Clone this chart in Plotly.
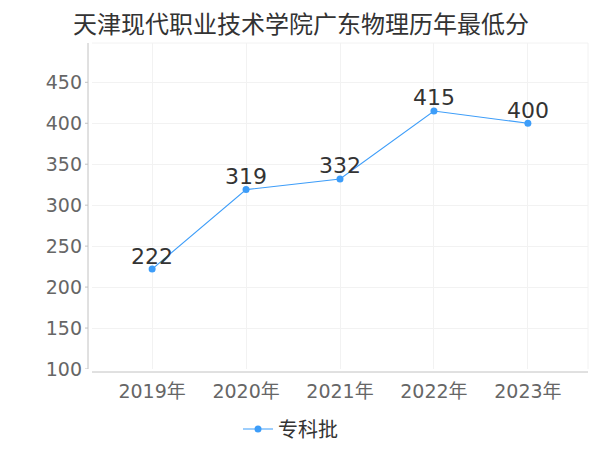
import plotly.graph_objects as go

years = ["2019年", "2020年", "2021年", "2022年", "2023年"]
scores = [222, 319, 332, 415, 400]
series_name = "专科批"
title_text = "天津现代职业技术学院广东物理历年最低分"
y_ticks = [100, 150, 200, 250, 300, 350, 400, 450]

# the page body adds an 8px margin; figure coordinates are page coordinates minus 8
W, H = 584, 434
ml, mr, mt, mb = 84, 4, 35, 73
pw, ph = W - ml - mr, H - mt - mb

fnt = "DejaVu Sans, Noto Sans CJK SC, sans-serif"
cjk = "Noto Sans CJK SC, sans-serif"
blue = "#3d9df9"
grid = "#f2f2f2"
axis_c = "#c2c2c2"

fig = go.Figure()
fig.add_trace(go.Scatter(
    x=years, y=scores, name=series_name, mode="lines+markers",
    line=dict(color=blue, width=1.1),
    marker=dict(color=blue, size=7),
    cliponaxis=False,
))
for yr, v in zip(years, scores):
    fig.add_annotation(x=yr, y=v, text=str(v), showarrow=False, yshift=13,
                       xanchor="center", yanchor="middle",
                       font=dict(size=22, color="#333333", family=fnt))

# title as a paper annotation
fig.add_annotation(xref="paper", yref="paper", x=(293 - ml) / pw, y=1 + (mt - 15) / ph,
                   text=title_text, showarrow=False, xanchor="center", yanchor="middle",
                   font=dict(size=24, color="#333333", family=cjk))

fig.update_layout(
    width=W, height=H,
    margin=dict(l=ml, r=mr, t=mt, b=mb, autoexpand=False),
    paper_bgcolor="white", plot_bgcolor="white",
    showlegend=True,
    legend=dict(orientation="h", x=(230 - ml) / pw, xanchor="left", y=-60 / ph, yanchor="middle",
                font=dict(size=20, color="#333333", family=cjk)),
    xaxis=dict(type="category", range=[-0.64, 4.64], showgrid=True, gridcolor=grid,
               gridwidth=1, zeroline=False, showline=False, ticks="", automargin=False,
               ticklabelstandoff=9,
               tickfont=dict(size=19, color="#666666", family=fnt)),
    yaxis=dict(range=[100, 498], tickvals=y_ticks, showgrid=True, gridcolor=grid,
               zeroline=False, showline=False, ticks="", ticklabelstandoff=9, automargin=False,
               tickfont=dict(size=19, color="#666666", family=fnt)),
)

# offset axis lines
fig.add_shape(type="line", xref="paper", yref="paper", x0=-4 / pw, x1=-4 / pw, y0=0, y1=1,
              line=dict(color=axis_c, width=1))
fig.add_shape(type="line", xref="paper", yref="paper", x0=0, x1=1, y0=-3 / ph, y1=-3 / ph,
              line=dict(color=axis_c, width=1))
# light border top/right
fig.add_shape(type="line", xref="paper", yref="paper", x0=0, x1=1, y0=1, y1=1,
              line=dict(color=grid, width=1))
fig.add_shape(type="line", xref="paper", yref="paper", x0=1, x1=1, y0=0, y1=1,
              line=dict(color=grid, width=1))
# y tick marks
for v in y_ticks:
    fig.add_shape(type="line", xref="paper", yref="y", x0=-7 / pw, x1=-4 / pw, y0=v, y1=v,
                  line=dict(color=axis_c, width=1))

fig.write_html("out.html")
